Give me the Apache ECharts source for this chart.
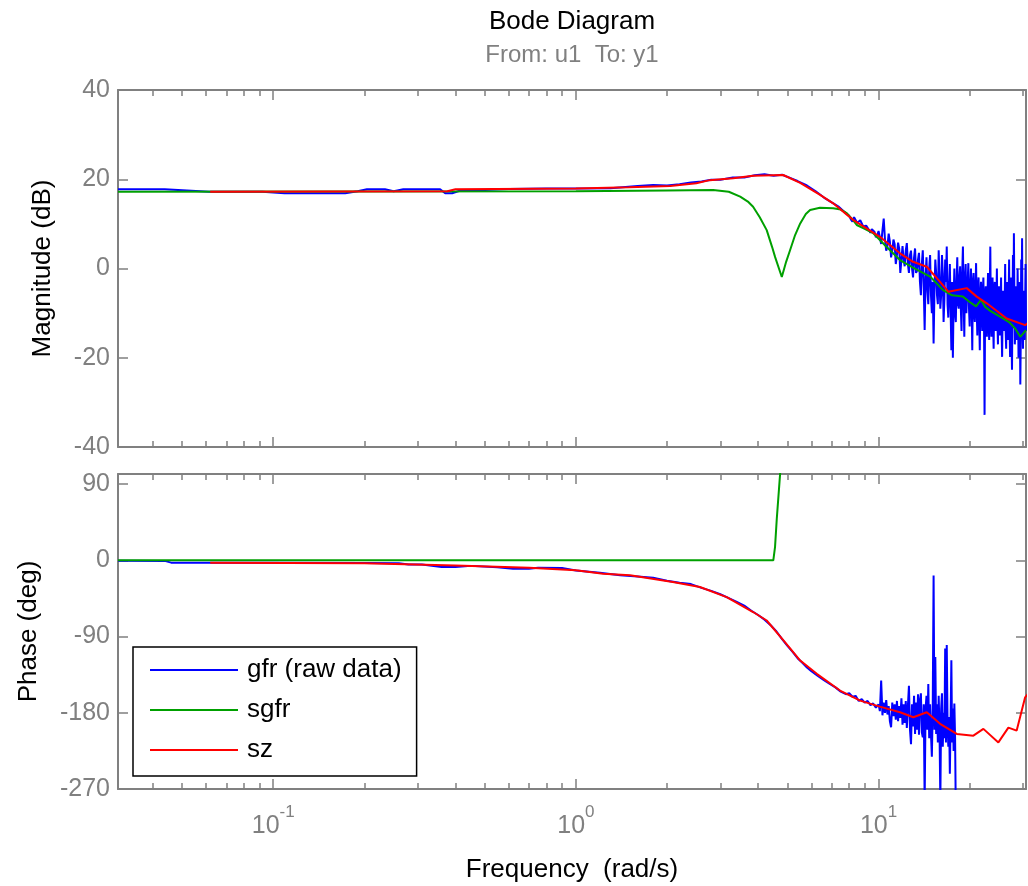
<!DOCTYPE html>
<html>
<head>
<meta charset="utf-8">
<script src="https://cdn.jsdelivr.net/npm/echarts@6/dist/echarts.min.js"></script>
<style>
html,body{margin:0;padding:0;background:#fff;}
#chart{width:1028px;height:886px;}
</style>
</head>
<body>
<div id="chart"></div>
<script>
// ---------- axis ranges & ticks ----------
const FREQ_MIN = 0.0307, FREQ_MAX = 30.7;
const freqMajorTicks = [0.1, 1, 10];
const freqMinorTicks = [0.04,0.05,0.06,0.07,0.08,0.09,0.2,0.3,0.4,0.5,0.6,0.7,0.8,0.9,2,3,4,5,6,7,8,9,20,30];
const magTicks = [-40, -20, 0, 20, 40];
const phaseTicks = [-270, -180, -90, 0, 90];
const PHASE_MAX = 102;

const seriesNames = ['gfr (raw data)', 'sgfr', 'sz'];

// ---------- gfr (raw data) magnitude : [freq rad/s, dB] ----------
const gfrMag = [
 [0.0307,17.75],[0.0438,17.75],[0.0614,17.2],[0.092,17.2],[0.109,16.85],[0.173,16.85],[0.19,17.3],
 [0.204,17.75],[0.234,17.75],[0.25,17.3],[0.269,17.75],[0.356,17.75],[0.37,16.85],[0.39,16.85],
 [0.42,17.6],[0.5,17.6],[0.6,17.8],[0.8,17.9],[1.0,17.9],[1.3,18.0],[1.6,18.5],[1.8,18.7],[2.0,18.6],
 [2.2,18.9],[2.4,19.3],[2.6,19.5],[2.8,19.9],[3.0,19.9],[3.3,20.4],[3.6,20.4],[3.9,20.9],[4.2,21.1],
 [4.5,20.8],[4.8,21.0],[5.1,20.3],[5.4,19.6],[5.8,18.6],[6.2,17.3],[6.6,15.9],[7.0,14.8],[7.4,13.8],[7.8,12.4],
 [8.0,11.8],[8.2,10.5],[8.4,11.2],[8.6,9.8],[8.8,10.6],[9.0,9.0],[9.2,9.9],[9.4,8.0],[9.6,9.2],[9.8,7.0],
 [10.0,8.4],[10.2,5.5],[10.4,11.2],[10.6,4.0],[10.8,7.8],[11.0,2.5],[11.2,6.5],[11.4,1.0],[11.6,5.8],[11.8,-1.0],
 [12.0,5.0],[12.2,0.5],[12.4,5.7],[12.6,-1.0],[12.8,4.0],[13.0,-2.0],[13.2,4.5],[13.4,-0.5],[13.6,3.5],[13.8,-6.0],
 [14.0,4.1],[14.2,-13.8],[14.4,2.5],[14.6,-8.0],[14.8,3.0],[15.0,-10.0],[15.2,-16.8],[15.4,2.0],[15.6,-6.0],[15.8,4.1],
 [16.0,-9.0],[16.2,3.0],[16.4,-12.0],[16.6,2.0],[16.8,4.9],[17.0,-11.0],[17.2,1.0],[17.4,-18.3],[17.6,-20.0],[17.8,0.0],
 [18.0,-12.0],[18.2,2.5],[18.4,-9.0],[18.6,0.5],[18.8,-14.0],[19.0,4.9],[19.2,-15.3],[19.4,1.0],[19.6,-10.0],[19.8,1.2],
 [20.0,-13.0],[20.2,0.0],[20.4,-18.3],[20.6,-1.0],[20.8,-12.0],[21.0,1.2],[21.2,-15.0],[21.4,-2.0],[21.6,-18.3],[21.8,-3.0],
 [22.0,-14.0],[22.2,-2.0],[22.4,-32.8],[22.6,-4.0],[22.8,-15.3],[23.0,-1.0],[23.2,-16.0],[23.4,4.9],[23.6,-15.3],[23.8,-2.0],
 [24.0,-18.0],[24.2,-3.0],[24.4,-14.0],[24.6,0.0],[24.8,-17.0],[25.0,-4.0],[25.2,-15.0],[25.4,-2.0],[25.6,-19.8],[25.8,-5.0],
 [26.0,-14.0],[26.2,1.0],[26.4,-18.0],[26.6,-3.0],[26.8,-16.0],[27.0,2.0],[27.2,-19.8],[27.4,-2.0],[27.6,-22.7],[27.8,3.0],
 [28.0,7.9],[28.2,-17.0],[28.4,-4.0],[28.6,-16.0],[28.8,0.0],[29.0,-20.0],[29.2,-3.0],[29.4,-26.0],[29.6,2.0],[29.8,6.8],
 [30.0,-18.0],[30.2,-5.0],[30.4,-16.0],[30.6,1.0],[30.8,-14.0]
];
// in-between raw samples of the dense noisy band
const gfrMagFill = [
 [8.1,11.0],[8.3,11.5],[8.5,10.2],[8.7,10.8],[8.9,9.4],[9.1,9.6],[9.3,8.6],[9.5,8.8],[9.7,8.2],[9.9,7.5],
 [10.1,7.0],[10.3,8.5],[10.5,6.5],[10.7,5.0],[10.9,6.0],[11.1,4.0],[11.3,5.5],[11.5,3.0],[11.7,4.5],[11.9,2.0],
 [12.1,2.0],[12.3,4.0],[12.5,1.0],[12.7,3.0],[12.9,0.0],[13.1,2.5],[13.3,-1.0],[13.5,2.0],[13.7,-3.0],[13.9,1.0],
 [14.1,-4.0],[14.3,-2.0],[14.5,-5.0],[14.7,0.0],[14.9,-6.0],[15.1,-3.0],[15.3,-5.0],[15.5,-1.0],[15.7,-8.0],[15.9,-2.0],
 [16.1,-6.0],[16.3,-1.0],[16.5,-7.0],[16.7,-3.0],[16.9,-8.0],[17.1,-4.0],[17.3,-9.0],[17.5,-3.0],[17.7,-7.0],[17.9,-10.0],
 [18.1,-3.0],[18.3,-8.0],[18.5,-2.0],[18.7,-9.0],[18.9,-1.0],[19.1,-7.0],[19.3,-2.0],[19.5,-10.0],[19.7,-3.0],[19.9,-9.0],
 [20.1,-4.0],[20.3,-8.0],[20.5,-3.0],[20.7,-10.0],[20.9,-5.0],[21.1,-9.0],[21.3,-4.0],[21.5,-11.0],[21.7,-6.0],[21.9,-10.0],
 [22.1,-5.0],[22.3,-11.0],[22.5,-6.0],[22.7,-10.0],[22.9,-6.0],[23.1,-12.0],[23.3,-5.0],[23.5,-11.0],[23.7,-7.0],[23.9,-12.0],
 [24.1,-6.0],[24.3,-13.0],[24.5,-8.0],[24.7,-12.0],[24.9,-7.0],[25.1,-13.0],[25.3,-8.0],[25.5,-14.0],[25.7,-9.0],[25.9,-13.0],
 [26.1,-8.0],[26.3,-14.0],[26.5,-9.0],[26.7,-13.0],[26.9,-7.0],[27.1,-14.0],[27.3,-9.0],[27.5,-15.0],[27.7,-8.0],[27.9,-13.0],
 [28.1,-6.0],[28.3,-14.0],[28.5,-9.0],[28.7,-15.0],[28.9,-8.0],[29.1,-14.0],[29.3,-9.0],[29.5,-16.0],[29.7,-7.0],[29.9,-13.0],
 [30.1,-9.0],[30.3,-14.0],[30.5,-8.0],[30.7,-13.0]
];
// gfr phase : [freq rad/s, deg]
const gfrPhase = [
 [0.0307,-0.3],[0.0438,-0.6],[0.046,-2.7],[0.0614,-2.7],[0.1,-2.8],[0.2,-3.0],[0.26,-3.3],[0.28,-5.0],[0.31,-5.0],
 [0.36,-7.9],[0.40,-7.9],[0.45,-6.5],[0.55,-8.0],[0.62,-9.8],[0.7,-9.8],[0.75,-8.7],[0.9,-9.0],[1.0,-12.0],
 [1.2,-14.5],[1.4,-17.5],[1.6,-19.0],[1.8,-20.5],[2.0,-24.0],[2.2,-26.5],[2.4,-28.0],[2.6,-32.5],[2.8,-36.0],
 [3.0,-40.0],[3.2,-44.5],[3.4,-49.0],[3.6,-53.5],[3.8,-59.5],[4.0,-64.5],[4.2,-70.0],[4.4,-76.5],[4.6,-84.0],
 [4.8,-93.0],[5.0,-101.0],[5.2,-108.0],[5.4,-115.5],[5.6,-121.0],[5.8,-126.5],[6.0,-131.0],[6.3,-136.5],
 [6.6,-141.5],[6.9,-146.0],[7.2,-150.0],[7.5,-155.0],[7.8,-158.0],
 [8.0,-157],[8.2,-161],[8.4,-160],[8.6,-166],[8.8,-164],[9.0,-168],[9.2,-166],[9.4,-171],[9.6,-169],[9.8,-174],
 [10.0,-170],[10.1,-178],[10.2,-142],[10.3,-183],[10.4,-168],[10.5,-180],[10.6,-165],[10.7,-182],[10.8,-172],[10.9,-190],
 [11.0,-197],[11.1,-168],[11.2,-184],[11.3,-170],[11.4,-188],[11.5,-166],[11.6,-190],[11.7,-172],[11.8,-186],[11.9,-163],
 [12.0,-194],[12.1,-170],[12.2,-192],[12.3,-166],[12.4,-198],[12.5,-172],[12.6,-148],[12.7,-200],[12.8,-217],[12.9,-170],
 [13.0,-196],[13.1,-160],[13.2,-205],[13.3,-168],[13.4,-200],[13.5,-158],[13.6,-206],[13.7,-165],[13.8,-157],[13.9,-203],
 [14.0,-209],[14.1,-170],[14.2,-285],[14.3,-175],[14.4,-160],[14.5,-200],[14.6,-146],[14.7,-210],[14.8,-170],[14.9,-205],
 [15.0,-232],[15.1,-175],[15.2,-18],[15.3,-200],[15.4,-114],[15.5,-205],[15.6,-170],[15.7,-215],[15.8,-160],[15.9,-200],
 [16.0,-285],[16.1,-175],[16.2,-157],[16.3,-220],[16.4,-180],[16.5,-210],[16.6,-104],[16.7,-215],[16.8,-100],[16.9,-190],
 [17.0,-220],[17.1,-185],[17.2,-252],[17.3,-190],[17.4,-118],[17.5,-215],[17.6,-175],[17.7,-225],[17.8,-169],[17.9,-210],
 [18.0,-300]
];

// ---------- sgfr ----------
const sgfrMag = [
 [0.0307,17.2],[1.0,17.3],[2.0,17.5],[2.84,17.6],[3.2,17.2],[3.49,16.1],[3.7,15.0],[3.85,13.85],[4.05,11.5],
 [4.27,8.6],[4.45,4.8],[4.55,2.6],[4.79,-1.9],[4.95,1.5],[5.1,4.1],[5.3,7.5],[5.51,10.1],[5.75,12.2],[5.94,13.1],
 [6.4,13.6],[7.08,13.5],[7.5,13.2],[7.85,12.4],[8.2,11.0],[8.47,9.75],[9.0,8.9],[9.59,7.95],[10.5,5.2],[11.77,1.9],
 [13.0,0.2],[14.8,-1.8],[16.3,-4.8],[17.5,-6.0],[19.0,-6.3],[20.0,-7.5],[21.0,-8.5],[21.8,-7.0],[22.5,-8.6],
 [23.4,-9.5],[25.2,-10.8],[27.0,-12.0],[28.3,-13.5],[29.4,-15.3],[30.7,-13.8]
];
const sgfrPhase = [
 [0.0307,0],[4.49,0],[4.55,16],[4.61,49],[4.69,85],[4.78,125]
];

// ---------- sz ----------
const szMag = [
 [0.0619,17.2],[0.376,17.3],[0.40,17.75],[1.0,17.9],[1.5,18.2],[2.05,18.5],[2.5,19.1],[2.77,19.8],[3.31,20.2],
 [3.85,20.8],[4.84,20.95],[5.51,19.2],[6.41,16.5],[7.08,14.6],[8.24,10.9],[10.1,7.1],[11.77,3.4],[13.0,1.5],
 [14.43,0.4],[15.97,-3.0],[17.0,-5.2],[19.56,-4.4],[21.1,-6.3],[22.78,-7.8],[26.5,-11.2],[30.5,-12.7],[31.2,-12.2]
];
const szPhase = [
 [0.0619,-2.7],[0.2,-3.5],[0.4,-6.0],[0.7,-8.8],[1.0,-11.8],[1.23,-15.8],[1.51,-17.7],[2.09,-25.6],[2.57,-31.5],
 [3.15,-43.4],[3.85,-61],[4.27,-71],[4.85,-94.6],[5.51,-118.3],[6.25,-134],[7.46,-153.7],[8.69,-165.6],[10.1,-172.7],
 [11.77,-179.4],[13.03,-185.3],[14.43,-179.4],[15.97,-193],[18.13,-205],[20.57,-207],[22.2,-199],[24.88,-215],
 [26.85,-197.5],[28.6,-201],[30.5,-161.7],[31.2,-157.6]
];

const COLORS = ['#0000ff', '#00a000', '#ff0000'];

// ---------- styling ----------
const FONT = '"Liberation Sans", Arial, Helvetica, sans-serif';
const AX = '#808080';
const axLine = {color: AX, width: 2};
const tickLine = {color: AX, width: 1.5};

function freqAxis(gridIndex, position, major, opts) {
  const a = {
    type: 'log', logBase: 10, gridIndex: gridIndex, position: position,
    min: FREQ_MIN, max: FREQ_MAX,
    axisLine: {show: major, onZero: false, lineStyle: axLine},
    axisTick: {show: true, inside: true, length: major ? 10 : 6,
               customValues: major ? freqMajorTicks : freqMinorTicks, lineStyle: tickLine},
    axisLabel: {show: false},
    splitLine: {show: false}, minorTick: {show: false}, minorSplitLine: {show: false},
    axisPointer: {show: false}
  };
  return Object.assign(a, opts || {});
}

function valAxis(gridIndex, position, min, max, interval, ticks, showLabels, extra) {
  const a = {
    type: 'value', gridIndex: gridIndex, position: position, min: min, max: max, interval: interval,
    axisLine: {show: true, onZero: false, lineStyle: axLine},
    axisTick: {show: true, inside: true, length: 10, customValues: ticks, lineStyle: tickLine},
    axisLabel: {show: showLabels, customValues: ticks, color: AX, fontSize: 25, fontFamily: FONT, margin: 8},
    splitLine: {show: false}, axisPointer: {show: false}
  };
  return Object.assign(a, extra || {});
}

const xAxes = [
  freqAxis(0, 'bottom', true),
  freqAxis(0, 'bottom', false),
  freqAxis(0, 'top', true),
  freqAxis(0, 'top', false),
  freqAxis(1, 'bottom', true, {
    axisLabel: {
      show: true, customValues: freqMajorTicks, margin: 10,
      formatter: function (v) { return '{b|10}{s|' + Math.round(Math.log10(v)) + '}'; },
      rich: {
        b: {fontSize: 25, color: AX, fontFamily: FONT, lineHeight: 40, verticalAlign: 'bottom'},
        s: {fontSize: 17, color: AX, fontFamily: FONT, lineHeight: 18, verticalAlign: 'top', padding: [5, 0, 0, 0]}
      }
    },
    name: 'Frequency  (rad/s)', nameLocation: 'middle', nameGap: 68, nameMoveOverlap: false,
    nameTextStyle: {color: '#000', fontSize: 26, fontFamily: FONT}
  }),
  freqAxis(1, 'bottom', false),
  freqAxis(1, 'top', true),
  freqAxis(1, 'top', false)
];

const yAxes = [
  valAxis(0, 'left', -40, 40, 20, magTicks, true, {
    name: 'Magnitude (dB)', nameLocation: 'middle', nameRotate: 90, nameGap: 62, nameMoveOverlap: false,
    nameTextStyle: {color: '#000', fontSize: 26, fontFamily: FONT}
  }),
  valAxis(0, 'right', -40, 40, 20, magTicks, false),
  valAxis(1, 'left', -270, PHASE_MAX, 90, phaseTicks, true, {
    name: 'Phase (deg)', nameLocation: 'middle', nameRotate: 90, nameGap: 76, nameMoveOverlap: false,
    nameTextStyle: {color: '#000', fontSize: 26, fontFamily: FONT}
  }),
  valAxis(1, 'right', -270, PHASE_MAX, 90, phaseTicks, false)
];

function lineSeries(name, data, color, xi, yi) {
  return {
    name: name, type: 'line', data: data, xAxisIndex: xi, yAxisIndex: yi,
    symbol: 'none', showSymbol: false, clip: true, animation: false, silent: true,
    lineStyle: {color: color, width: 2}, itemStyle: {color: color},
    emphasis: {disabled: true}
  };
}

const gfrMagAll = gfrMag.concat(gfrMagFill).sort(function (a, b) { return a[0] - b[0]; });

const option = {
  animation: false,
  backgroundColor: '#fff',
  grid: [
    {left: 118, top: 90, width: 908, height: 357, outerBoundsMode: 'none', containLabel: false},
    {left: 118, top: 474, width: 908, height: 315, outerBoundsMode: 'none', containLabel: false}
  ],
  xAxis: xAxes,
  yAxis: yAxes,
  legend: {
    orient: 'vertical', left: 133, top: 647,
    icon: 'rect', itemWidth: 88, itemHeight: 2, itemGap: 10,
    padding: [8, 15, 11, 17],
    borderColor: '#000', borderWidth: 1.5, borderRadius: 0, backgroundColor: '#fff',
    textStyle: {color: '#000', fontSize: 26, fontFamily: FONT, lineHeight: 30, padding: [0, 0, 0, 4]},
    data: seriesNames, selectedMode: false
  },
  graphic: [
    {type: 'text', x: 572, y: 22, silent: true,
     style: {text: 'Bode Diagram', fill: '#000', font: '26px ' + FONT,
             align: 'center', verticalAlign: 'middle', textAlign: 'center', textVerticalAlign: 'middle'}},
    {type: 'text', x: 572, y: 55, silent: true,
     style: {text: 'From: u1  To: y1', fill: AX, font: '24px ' + FONT,
             align: 'center', verticalAlign: 'middle', textAlign: 'center', textVerticalAlign: 'middle'}}
  ],
  series: [
    lineSeries(seriesNames[0], gfrMagAll, COLORS[0], 0, 0),
    lineSeries(seriesNames[1], sgfrMag, COLORS[1], 0, 0),
    lineSeries(seriesNames[2], szMag, COLORS[2], 0, 0),
    lineSeries(seriesNames[0], gfrPhase, COLORS[0], 4, 2),
    lineSeries(seriesNames[1], sgfrPhase, COLORS[1], 4, 2),
    lineSeries(seriesNames[2], szPhase, COLORS[2], 4, 2)
  ]
};

const chart = echarts.init(document.getElementById('chart'), null, {renderer: 'canvas'});
chart.setOption(option);
</script>
</body>
</html>
